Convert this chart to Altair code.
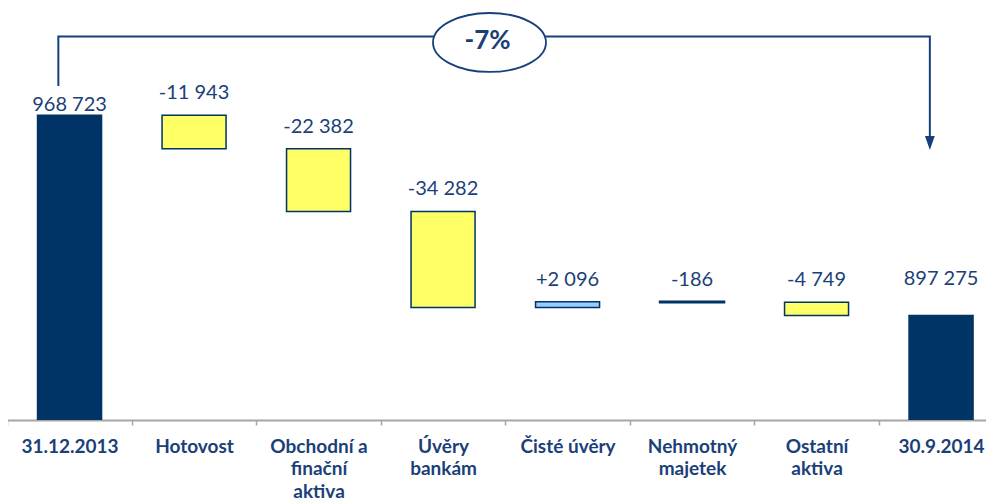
import altair as alt
import pandas as pd

# ---------------- data ----------------
categories = ["31.12.2013", "Hotovost", "Obchodní a|finační|aktiva", "Úvěry|bankám",
              "Čisté úvěry", "Nehmotný|majetek", "Ostatní|aktiva", "30.9.2014"]
start_value = 968723
changes = [-11943, -22382, -34282, 2096, -186, -4749]
end_value = 897275
bar_kinds = ["total", "decrease", "decrease", "decrease", "increase", "minor", "decrease", "total"]
change_pct_label = "-7%"

# annotation levels (data units)
Y_MIN, Y_MAX = 860000, 1007000
BRACKET_Y = 996800
BRACKET_LEFT_END = 979200
ARROW_HEAD_Y = 958800
ELLIPSE_Y = 994700
PCT_TEXT_Y = 995400

# ---------------- styles ----------------
NAVY = "#003366"
TEXT_NAVY = "#1b3f78"
LINE_NAVY = "#17407a"
YELLOW = "#ffff66"
LIGHT_BLUE = "#99ccff"
FONT = "Lato"


def fmt(v, signed):
    s = f"{abs(v):,}".replace(",", " ")
    if signed:
        return ("+" if v > 0 else "-") + s
    return s


rows = []
rows.append(dict(cat=categories[0], lo=0, hi=start_value, label=fmt(start_value, False),
                 kind=bar_kinds[0], pos="first"))
level = start_value
for c, d, k in zip(categories[1:-1], changes, bar_kinds[1:-1]):
    new = level + d
    rows.append(dict(cat=c, lo=min(level, new), hi=max(level, new), label=fmt(d, True),
                     kind=k, pos="mid"))
    level = new
rows.append(dict(cat=categories[-1], lo=0, hi=end_value, label=fmt(end_value, False),
                 kind=bar_kinds[-1], pos="last"))
df = pd.DataFrame(rows)

bracket = pd.DataFrame([
    dict(cat=categories[0], y=BRACKET_LEFT_END, o=0),
    dict(cat=categories[0], y=BRACKET_Y, o=1),
    dict(cat=categories[-1], y=BRACKET_Y, o=2),
    dict(cat=categories[-1], y=ARROW_HEAD_Y, o=3),
])
arrow = pd.DataFrame([dict(cat=categories[-1], y=ARROW_HEAD_Y)])
ellipse = pd.DataFrame([dict(cat=categories[3], y=ELLIPSE_Y, t=change_pct_label)])
pct = pd.DataFrame([dict(cat=categories[3], y=PCT_TEXT_Y, t=change_pct_label)])

x_scale = alt.Scale(domain=categories, range=[-0.7, 995.3], paddingInner=0, paddingOuter=0)
y_scale = alt.Scale(domain=[Y_MIN, Y_MAX], nice=False, zero=False)
x_axis = alt.Axis(title=None, labelAngle=0, labelFont=FONT, labelFontWeight="bold",
                  labelFontSize=19, labelColor=TEXT_NAVY, labelLineHeight=22.5,
                  labelPadding=12, labelExpr="split(datum.label, '|')",
                  tickBand="extent", tickColor="#a6a6a6", tickSize=5, tickWidth=1.5,
                  domainColor="#a6a6a6", domainWidth=2, labelLimit=300,
                  labelOverlap=False, grid=False)


def X(bp=0.5):
    return alt.X("cat:N", scale=x_scale, axis=x_axis, sort=categories, bandPosition=bp)


bars = alt.Chart(df).mark_bar(size=64, stroke=NAVY, clip=True).encode(
    x=X(),
    y=alt.Y("hi:Q", scale=y_scale, axis=None),
    y2="lo:Q",
    fill=alt.Fill("kind:N", legend=None,
                  scale=alt.Scale(domain=["total", "decrease", "increase", "minor"],
                                  range=[NAVY, YELLOW, LIGHT_BLUE, NAVY])),
    strokeWidth=alt.condition(alt.datum.kind == "minor", alt.value(2.5), alt.value(1.5)),
)


def labels(pos, dy):
    return alt.Chart(df).transform_filter(alt.datum.pos == pos).mark_text(
        font=FONT, fontSize=20, color=TEXT_NAVY, baseline="alphabetic", dy=dy
    ).encode(
        x=X(),
        y=alt.Y("hi:Q", scale=y_scale, axis=None),
        text="label:N",
    )


bp = 0.41
bracket_line = alt.Chart(bracket).mark_line(color=LINE_NAVY, strokeWidth=2).encode(
    x=X(bp), y=alt.Y("y:Q", scale=y_scale, axis=None), order="o:Q")

arrow_head = alt.Chart(arrow).mark_point(
    shape="M-0.7,-1L0.7,-1L0,1Z", size=196, filled=True, color=LINE_NAVY, opacity=1
).encode(x=X(bp), y=alt.Y("y:Q", scale=y_scale, axis=None))

ellipse_mark = alt.Chart(ellipse).mark_point(
    shape="M-1,0A1,0.522,0,1,1,1,0A1,0.522,0,1,1,-1,0Z", size=12769, filled=True,
    fill="white", stroke=LINE_NAVY, strokeWidth=1.8, opacity=1
).encode(x=X(0.873), y=alt.Y("y:Q", scale=y_scale, axis=None))

pct_text = alt.Chart(pct).mark_text(
    font=FONT, fontSize=26, fontWeight="bold", color=TEXT_NAVY, baseline="middle"
).encode(x=X(0.857), y=alt.Y("y:Q", scale=y_scale, axis=None), text="t:N")

chart = alt.layer(
    bars, labels("mid", -16), labels("first", -4), labels("last", -31),
    bracket_line, arrow_head, ellipse_mark, pct_text
).properties(
    width=978, height=412,
    autosize=alt.AutoSizeParams(type="none"),
    padding={"left": 0, "top": 0, "right": 0, "bottom": 86},
    background="white",
).configure_view(stroke=None)

chart.save("out.html", embed_options={"renderer": "svg", "actions": False})
